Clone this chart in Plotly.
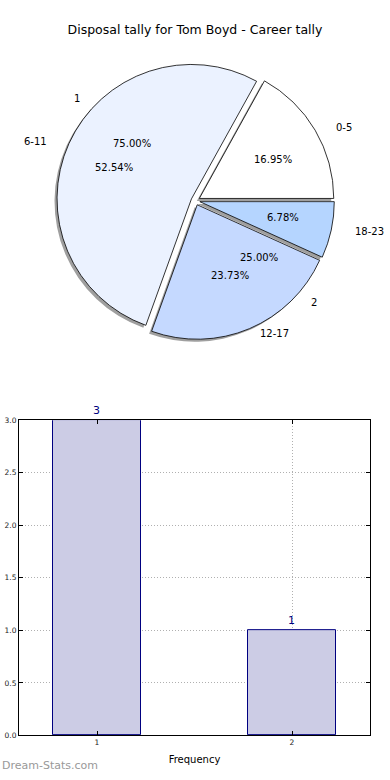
import math
import plotly.graph_objects as go

# ---------------- data ----------------
chart_title = "Disposal tally for Tom Boyd - Career tally"
range_labels = ["0-5", "6-11", "12-17", "18-23"]
range_counts = [10, 31, 14, 4]            # 16.95%, 52.54%, 23.73%, 6.78%
range_colors = ["#FFFFFF", "#EBF2FF", "#C5D9FF", "#B5D5FF"]

freq_labels = ["1", "2"]
freq_counts = [3, 1]                       # 75.00%, 25.00%

bar_x = [1, 2]
bar_y = [3, 1]
bar_axis_title = "Frequency"
watermark = "Dream-Stats.com"

# ---------------- layout geometry (px) ----------------
W, H = 390, 780
CX, CY = 195.5, 199.0      # pie centre
RX, RY = 142.0, 129.0      # label placement radii
R = 136.0                  # drawn pie radius
EXP = 0.033                # explode fraction
FONT = "DejaVu Sans"
NAVY = "#000080"


def px(x):
    return x / W


def py(y):
    return 1 - y / H


B = 2 * R * (1 + EXP)
pie_domain_x = [px(CX - B / 2), px(CX + B / 2)]
pie_domain_y = [py(CY + B / 2), py(CY - B / 2)]
SH = 2.5
shadow_domain_x = [px(CX - B / 2 - SH), px(CX + B / 2 - SH)]
shadow_domain_y = [py(CY + B / 2 + SH), py(CY - B / 2 + SH)]

# first slice starts at 3 o'clock and runs counter-clockwise
start_rot = 90 - 360.0 * range_counts[0] / sum(range_counts)

fig = go.Figure()

# shadow
fig.add_trace(go.Pie(
    labels=range_labels, values=range_counts, sort=False,
    direction="counterclockwise", rotation=start_rot, pull=[EXP] * len(range_counts),
    marker=dict(colors=["rgba(80,80,80,0.55)"] * len(range_counts),
                line=dict(width=0)),
    textinfo="none", hoverinfo="skip", showlegend=False,
    domain=dict(x=shadow_domain_x, y=shadow_domain_y),
))

# main pie
fig.add_trace(go.Pie(
    labels=range_labels, values=range_counts, sort=False,
    direction="counterclockwise", rotation=start_rot, pull=[EXP] * len(range_counts),
    marker=dict(colors=range_colors, line=dict(color="#000000", width=0.8)),
    textinfo="none", hoverinfo="label+percent", showlegend=False,
    domain=dict(x=pie_domain_x, y=pie_domain_y),
))

annotations = []


def pie_text(labels, counts):
    total = float(sum(counts))
    cum = 0.0
    for lab, c in zip(labels, counts):
        frac = c / total
        mid = math.radians((cum + frac / 2) * 360)
        cum += frac
        cs, sn = math.cos(mid), math.sin(mid)
        ox = CX + EXP * RX * cs
        oy = CY - EXP * RY * sn
        lx = ox + 1.1 * RX * cs
        ly = oy - 1.1 * RY * sn
        annotations.append(dict(
            x=px(lx), y=py(ly), xref="paper", yref="paper", text=lab,
            showarrow=False, xanchor="left" if cs > 0 else "right",
            yanchor="middle", font=dict(family=FONT, size=10, color="#000000")))
        tx = ox + 0.6 * RX * cs
        ty = oy - 0.6 * RY * sn
        annotations.append(dict(
            x=px(tx), y=py(ty), xref="paper", yref="paper",
            text=f"{frac * 100:.2f}%", showarrow=False,
            xanchor="center", yanchor="middle",
            font=dict(family=FONT, size=10, color="#000000")))


pie_text(freq_labels, freq_counts)
pie_text(range_labels, range_counts)

# bar chart
fig.add_trace(go.Bar(
    x=bar_x, y=bar_y, width=0.45,
    marker=dict(color="#CCCCE5", line=dict(color=NAVY, width=1)),
    text=[str(v) for v in bar_y], textposition="outside",
    textfont=dict(family=FONT, size=11, color=NAVY),
    outsidetextfont=dict(family=FONT, size=11, color=NAVY),
    insidetextfont=dict(family=FONT, size=11, color=NAVY),
    constraintext="none",
    cliponaxis=False, showlegend=False, hoverinfo="x+y",
))

annotations.append(dict(
    x=0.0, y=py(770), xref="paper", yref="paper", text=watermark,
    showarrow=False, xanchor="left", yanchor="middle",
    font=dict(family=FONT, size=11, color="#999999")))

axis_common = dict(
    showline=True, linecolor="#000000", linewidth=1, mirror="ticks",
    ticks="inside", ticklen=4, tickcolor="#000000",
    showgrid=True, gridcolor="#b0b0b0", griddash="1px,2px", gridwidth=1,
    zeroline=False, tickfont=dict(family=FONT, size=7.5, color="#222222"),
)

fig.update_layout(
    width=W, height=H,
    margin=dict(l=0, r=0, t=0, b=0),
    paper_bgcolor="#FFFFFF", plot_bgcolor="#FFFFFF",
    title=dict(text=chart_title, x=0.5, xanchor="center", y=py(30),
               yanchor="middle", font=dict(family=FONT, size=12.5, color="#000000")),
    xaxis=dict(domain=[px(19), px(370)], range=[0.6, 2.4], tickvals=bar_x,
               ticktext=[str(v) for v in bar_x], anchor="y",
               title=dict(text=bar_axis_title, standoff=9,
                          font=dict(family=FONT, size=10, color="#000000")),
               **axis_common),
    yaxis=dict(domain=[py(740), py(421)], range=[0, 3], dtick=0.5,
               tickformat=".1f", anchor="x", **axis_common),
    annotations=annotations,
    bargap=0,
)

fig.write_html(
    "out.html",
    config={"displayModeBar": False},
    post_script="document.body.style.margin='0';document.body.style.overflow='hidden';",
)
